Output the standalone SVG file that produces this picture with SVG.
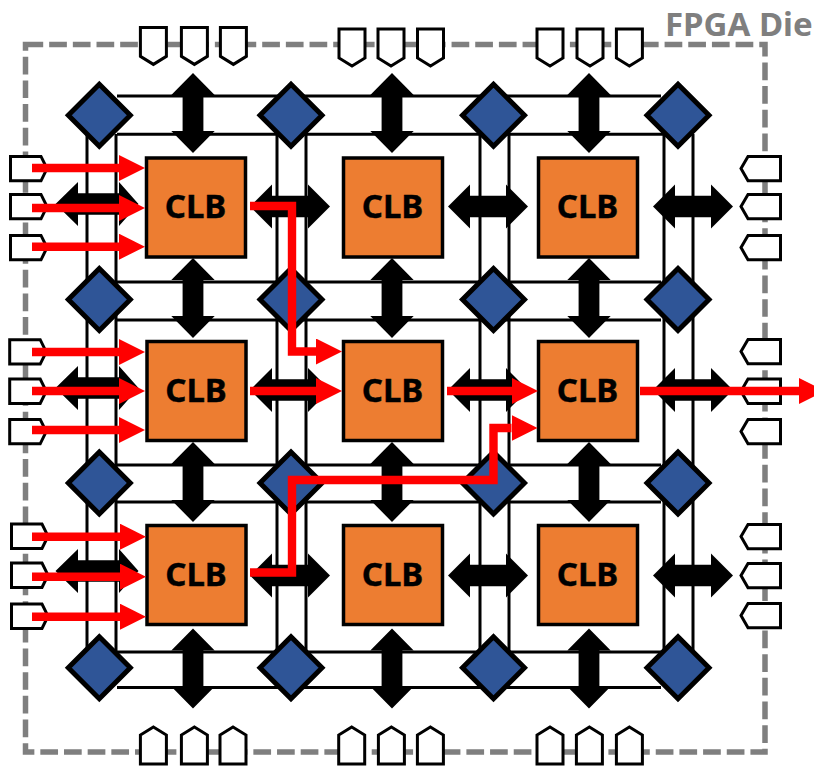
<svg xmlns="http://www.w3.org/2000/svg" width="814" height="767" viewBox="0 0 814 767">
<style>
.die{fill:none;stroke:#7f7f7f;stroke-width:5.5;stroke-dasharray:17.7 5.97}
.title{font:bold 33px "Noto Sans",sans-serif;fill:#7f7f7f}
.port{fill:#fff;stroke:#000;stroke-width:3;stroke-linejoin:miter}
.wire{fill:none;stroke:#000;stroke-width:3}
.bus{fill:#000}
.sw{fill:#2f5597;stroke:#000;stroke-width:5;stroke-linejoin:miter}
.clb{fill:#ed7d31;stroke:#000;stroke-width:3.5}
.lbl{font:bold 33px "Noto Sans",sans-serif;fill:#000;stroke:#000;stroke-width:.4;text-anchor:middle}
.sig{fill:none;stroke:#f00;stroke-width:8.4;stroke-linejoin:miter;marker-end:url(#rh)}
</style>
<defs>
<marker id="rh" markerUnits="userSpaceOnUse" markerWidth="26" markerHeight="26" refX="0" refY="13" orient="auto"><polygon points="0,0 26,13 0,26" fill="#f00"/></marker>
<polygon id="pD" points="0,0 26,0 26,29 13,37 0,29"/>
<polygon id="pU" points="13,0 26,8 26,37 0,37 0,8"/>
<polygon id="pR" points="0,0 30.5,0 36.5,12.2 30.5,24.4 0,24.4"/>
<polygon id="pL" points="39.5,0 7,0 0,12.2 7,24.4 39.5,24.4"/>
<polygon id="aH" points="-40,0 -18,-22 -18,-10.7 18,-10.7 18,-22 40,0 18,22 18,10.7 -18,10.7 -18,22"/>
<polygon id="aV" points="0,-40 -21.7,-18 -10.4,-18 -10.4,18 -21.7,18 0,40 21.7,18 10.4,18 10.4,-18 21.7,-18"/>
<polygon id="aL" points="-41.5,0 -19,-22 -19,-10.7 22,-10.7 22,-22 41.5,0 22,22 22,10.7 -19,10.7 -19,22"/>
</defs>

<g id="die">
<path class="die" d="M25.5 44.5H765V752H25.5Z"/>
<text class="title" x="665" y="36">FPGA Die</text>
</g>

<g id="ports-top" class="port">
<use href="#pD" x="140.4" y="27.4"/><use href="#pD" x="181.4" y="27.4"/><use href="#pD" x="220.4" y="27.4"/>
<use href="#pD" x="339" y="29"/><use href="#pD" x="378" y="29"/><use href="#pD" x="417.5" y="29"/>
<use href="#pD" x="537" y="29"/><use href="#pD" x="577" y="29"/><use href="#pD" x="616.4" y="29"/>
</g>
<g id="ports-bottom" class="port">
<use href="#pU" x="140.4" y="727"/><use href="#pU" x="181.4" y="727"/><use href="#pU" x="220" y="727"/>
<use href="#pU" x="338.7" y="727"/><use href="#pU" x="378.4" y="727"/><use href="#pU" x="417.4" y="727"/>
<use href="#pU" x="537" y="727"/><use href="#pU" x="576.4" y="727"/><use href="#pU" x="616.4" y="727"/>
</g>
<g id="ports-left" class="port">
<use href="#pR" x="10.5" y="156.4"/><use href="#pR" x="10.5" y="194.4"/><use href="#pR" x="10.5" y="235.4"/>
<use href="#pR" x="9.7" y="339.7"/><use href="#pR" x="9.7" y="379"/><use href="#pR" x="9.7" y="419.4"/>
<use href="#pR" x="11.5" y="524"/><use href="#pR" x="11.5" y="563"/><use href="#pR" x="11.5" y="604"/>
</g>
<g id="ports-right" class="port">
<use href="#pL" x="741" y="156.4"/><use href="#pL" x="741" y="194.4"/><use href="#pL" x="741" y="235.4"/>
<use href="#pL" x="741" y="339.4"/><use href="#pL" x="741" y="379"/><use href="#pL" x="741" y="419.4"/>
<use href="#pL" x="741" y="524.4"/><use href="#pL" x="741" y="563.4"/><use href="#pL" x="741" y="603.4"/>
</g>

<g id="connectors">
<path class="wire" d="M117 96H661M117 134.3H664M117 282H661M117 320H661M117 465H661M117 502H661M117 652H661M117 687.5H661"/>
<path class="wire" d="M87 134V651M116 134V651M277 134V651M306 134V651M480 134V651M509 134V651M664 134V651M693 134V651"/>
<g class="bus">
<use href="#aV" x="193" y="113"/><use href="#aV" x="392" y="113"/><use href="#aV" x="589" y="113"/>
<use href="#aV" x="193" y="298"/><use href="#aV" x="392" y="298"/><use href="#aV" x="589" y="298"/>
<use href="#aV" x="193" y="482"/><use href="#aV" x="392" y="482"/><use href="#aV" x="589" y="482"/>
<use href="#aV" x="193" y="668.5"/><use href="#aV" x="392" y="668.5"/><use href="#aV" x="589" y="668.5"/>
<use href="#aL" x="97" y="204"/><use href="#aH" x="290" y="206.5"/><use href="#aH" x="488" y="206.5"/><use href="#aH" x="693" y="206.5"/>
<use href="#aL" x="97" y="388"/><use href="#aH" x="290" y="390"/><use href="#aH" x="488" y="390"/><use href="#aH" x="693" y="390"/>
<use href="#aL" x="97" y="571"/><use href="#aH" x="290" y="575.5"/><use href="#aH" x="488" y="575.5"/><use href="#aH" x="693" y="575.5"/>
</g>
</g>

<g id="sw-1-1"><polygon class="sw" points="99.3,84.3 130.3,115.3 99.3,146.3 68.3,115.3"/></g>
<g id="sw-1-2"><polygon class="sw" points="291,84.3 322,115.3 291,146.3 260,115.3"/></g>
<g id="sw-1-3"><polygon class="sw" points="493.5,84.3 524.5,115.3 493.5,146.3 462.5,115.3"/></g>
<g id="sw-1-4"><polygon class="sw" points="678,84.3 709,115.3 678,146.3 647,115.3"/></g>
<g id="sw-2-1"><polygon class="sw" points="99.3,268.5 130.3,299.5 99.3,330.5 68.3,299.5"/></g>
<g id="sw-2-2"><polygon class="sw" points="291,268.5 322,299.5 291,330.5 260,299.5"/></g>
<g id="sw-2-3"><polygon class="sw" points="493.5,268.5 524.5,299.5 493.5,330.5 462.5,299.5"/></g>
<g id="sw-2-4"><polygon class="sw" points="678,268.5 709,299.5 678,330.5 647,299.5"/></g>
<g id="sw-3-1"><polygon class="sw" points="99.3,452 130.3,483 99.3,514 68.3,483"/></g>
<g id="sw-3-2"><polygon class="sw" points="291,452 322,483 291,514 260,483"/></g>
<g id="sw-3-3"><polygon class="sw" points="493.5,452 524.5,483 493.5,514 462.5,483"/></g>
<g id="sw-3-4"><polygon class="sw" points="678,452 709,483 678,514 647,483"/></g>
<g id="sw-4-1"><polygon class="sw" points="99.3,636.7 130.3,667.7 99.3,698.7 68.3,667.7"/></g>
<g id="sw-4-2"><polygon class="sw" points="291,636.7 322,667.7 291,698.7 260,667.7"/></g>
<g id="sw-4-3"><polygon class="sw" points="493.5,636.7 524.5,667.7 493.5,698.7 462.5,667.7"/></g>
<g id="sw-4-4"><polygon class="sw" points="678,636.7 709,667.7 678,698.7 647,667.7"/></g>

<g id="clb-1-1"><rect class="clb" x="146.5" y="158" width="99" height="99"/><text class="lbl" x="195.5" y="218">CLB</text></g>
<g id="clb-1-2"><rect class="clb" x="343.5" y="158" width="99" height="99"/><text class="lbl" x="392.5" y="218">CLB</text></g>
<g id="clb-1-3"><rect class="clb" x="538.5" y="158" width="99" height="99"/><text class="lbl" x="587.5" y="218">CLB</text></g>
<g id="clb-2-1"><rect class="clb" x="147" y="341.5" width="99" height="99"/><text class="lbl" x="196" y="402">CLB</text></g>
<g id="clb-2-2"><rect class="clb" x="343.5" y="341.5" width="99" height="99"/><text class="lbl" x="392.5" y="402">CLB</text></g>
<g id="clb-2-3"><rect class="clb" x="538.5" y="341.5" width="99" height="99"/><text class="lbl" x="587.5" y="402">CLB</text></g>
<g id="clb-3-1"><rect class="clb" x="147" y="525.5" width="99" height="99"/><text class="lbl" x="196" y="586">CLB</text></g>
<g id="clb-3-2"><rect class="clb" x="343.5" y="525.5" width="99" height="99"/><text class="lbl" x="392.5" y="586">CLB</text></g>
<g id="clb-3-3"><rect class="clb" x="538.5" y="525.5" width="99" height="99"/><text class="lbl" x="587.5" y="586">CLB</text></g>

<g id="signal-paths">
<path class="sig" d="M32 168H119"/><path class="sig" d="M32 208H119"/><path class="sig" d="M32 246.7H119"/>
<path class="sig" d="M32 352H119"/><path class="sig" d="M32 391H119"/><path class="sig" d="M32 430H119"/>
<path class="sig" d="M32 536.7H120"/><path class="sig" d="M32 576.7H120"/><path class="sig" d="M32 616.7H120"/>
<path class="sig" d="M250 206H292V351.5H316"/>
<path class="sig" d="M250 391H316"/>
<path class="sig" d="M447 391H512"/>
<path class="sig" d="M640 391H799"/>
<path class="sig" d="M250 572.5H292V480H493.5V428H511.5"/>
</g>
</svg>
